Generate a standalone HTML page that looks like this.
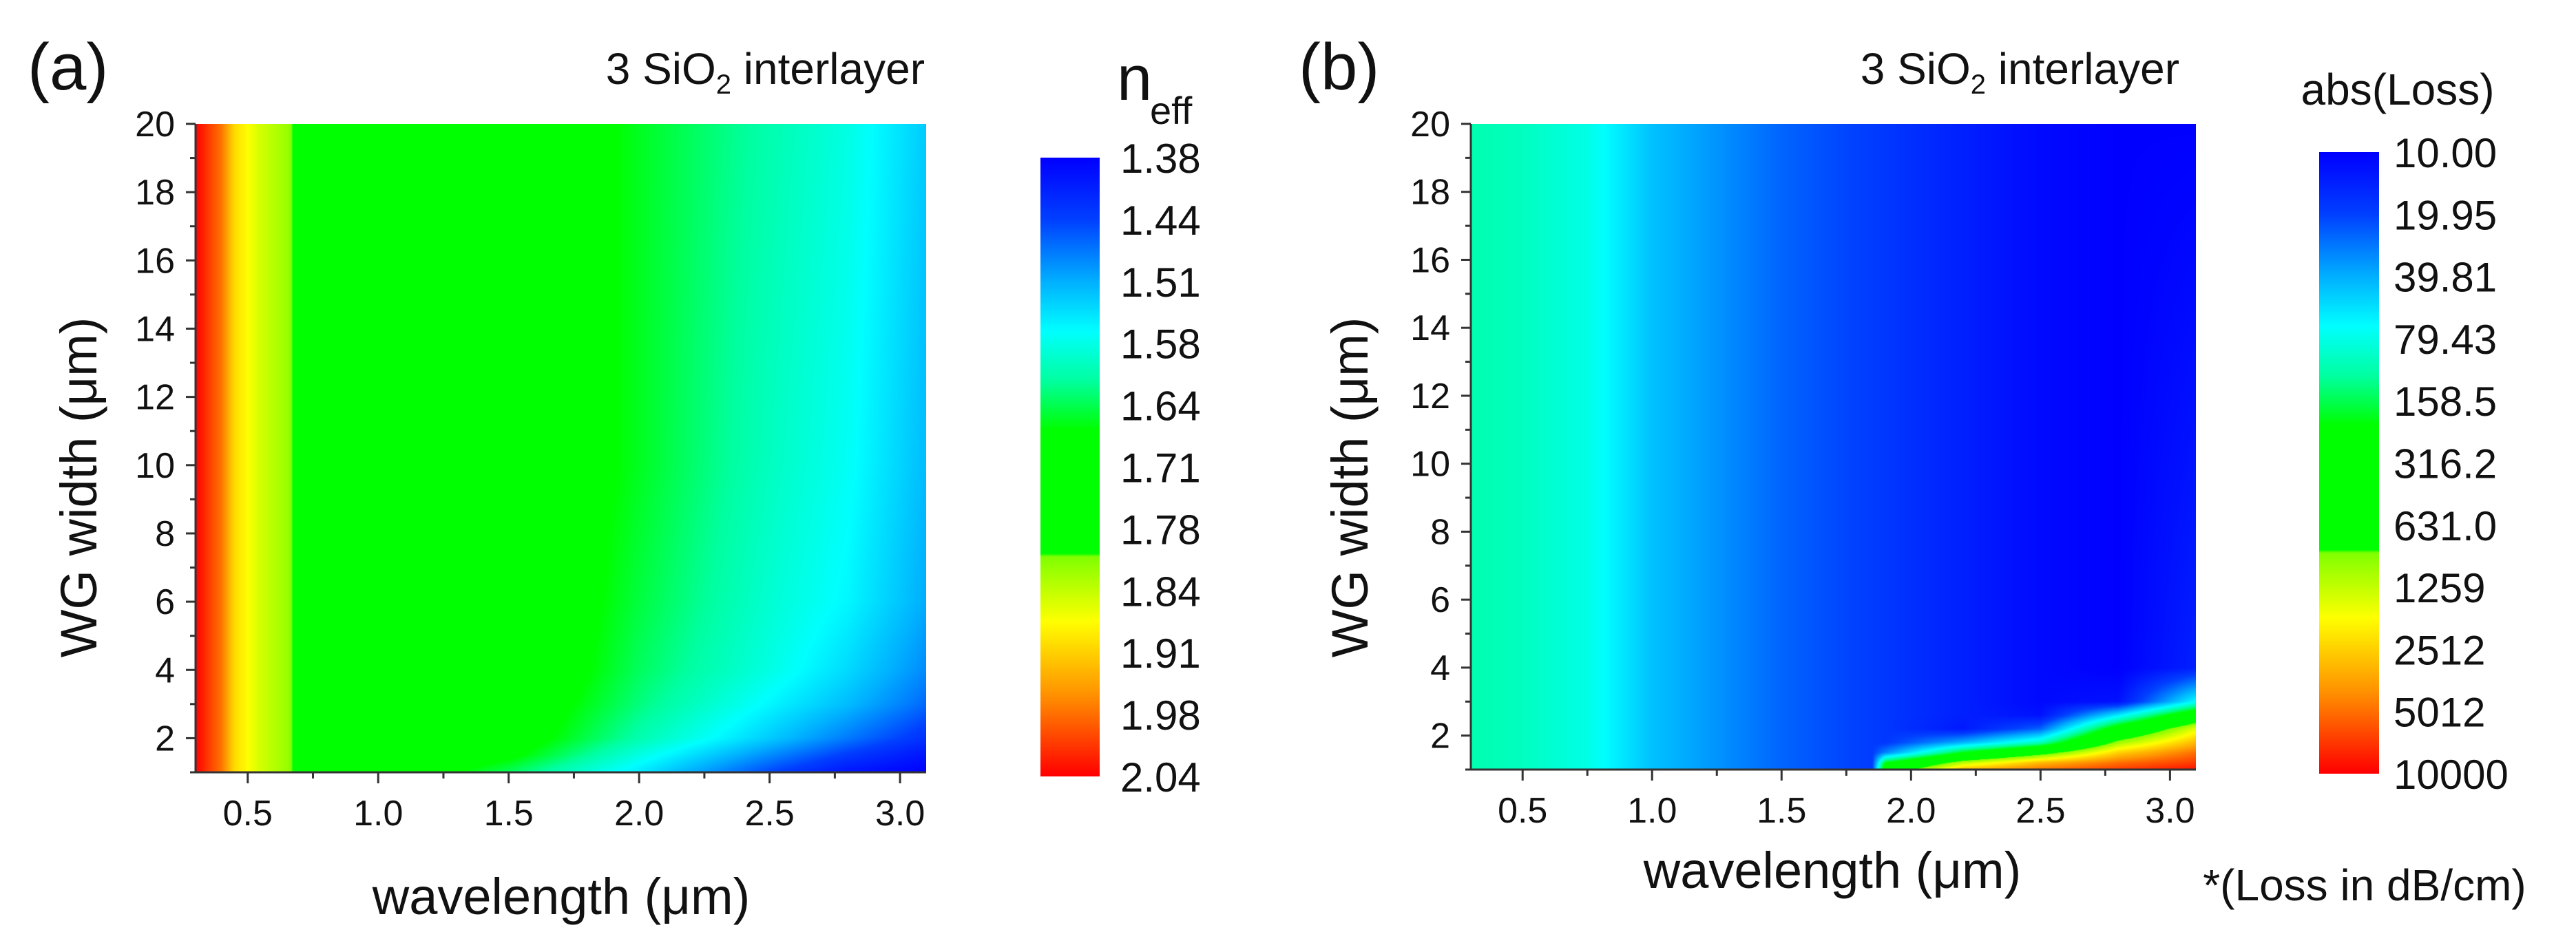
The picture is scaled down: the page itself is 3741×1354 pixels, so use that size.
<!DOCTYPE html>
<html><head><meta charset="utf-8">
<style>
html,body{margin:0;padding:0;background:#fff;}
#root{position:relative;width:3741px;height:1354px;overflow:hidden;font-family:"Liberation Sans",Arial,sans-serif;}
canvas{position:absolute;}
svg{position:absolute;left:0;top:0;}
text{font-family:"Liberation Sans",Arial,sans-serif;fill:#111;}
</style></head>
<body>
<div id="root">
<canvas id="heatA"></canvas>
<canvas id="heatB"></canvas>
<canvas id="cbarA"></canvas>
<canvas id="cbarB"></canvas>
<svg id="ov" width="3741" height="1354"></svg>
</div>
<script>
// ---- Panel (a) data: effective index ----
const wlA = [0.3,0.4,0.45,0.55,0.65,0.7,1.0,1.5,2.0,2.5,2.8,3.1];
const widthsA = [1,1.5,2,3,4,6,10,20];
const neff_w1   = [2.04,1.97,1.90,1.85,1.82,1.78,1.72,1.64,1.55,1.45,1.40,1.38];
const neff_w1p5 = [2.04,1.97,1.90,1.85,1.82,1.78,1.73,1.68,1.58,1.49,1.44,1.40];
const neff_w2   = [2.04,1.97,1.90,1.85,1.82,1.78,1.73,1.70,1.61,1.53,1.48,1.43];
const neff_w3   = [2.04,1.97,1.90,1.85,1.82,1.78,1.74,1.71,1.63,1.56,1.52,1.47];
const neff_w4   = [2.04,1.97,1.90,1.85,1.82,1.78,1.74,1.72,1.64,1.58,1.54,1.49];
const neff_w6   = [2.04,1.97,1.90,1.85,1.82,1.78,1.74,1.72,1.65,1.59,1.56,1.51];
const neff_w10  = [2.04,1.97,1.90,1.85,1.82,1.78,1.74,1.72,1.66,1.60,1.57,1.52];
const neff_w20  = [2.04,1.97,1.90,1.85,1.82,1.78,1.74,1.72,1.66,1.61,1.58,1.53];
const neffRows = [neff_w1,neff_w1p5,neff_w2,neff_w3,neff_w4,neff_w6,neff_w10,neff_w20];
const cbarTicksA = ["1.38","1.44","1.51","1.58","1.64","1.71","1.78","1.84","1.91","1.98","2.04"];
const neffMin = 1.38, neffMax = 2.04;

// ---- Panel (b) data: loss in dB/cm ----
const wlB = [0.3,0.5,0.75,1.0,1.5,1.85,1.9,2.2,2.5,2.8,3.1];
const widthsB = [1,1.2,1.5,1.8,2.2,2.6,3,4,20];
const loss_w1   = [110,100,80,45,25,19,400,3000,5000,7000,9000];
const loss_w1p2 = [110,100,80,45,25,19,200,1200,3000,5000,7000];
const loss_w1p5 = [110,100,80,45,25,19,30,200,600,2500,5000];
const loss_w1p8 = [110,100,80,45,25,19,18,40,100,1000,3000];
const loss_w2p2 = [110,100,80,45,25,19,18,13,25,300,1500];
const loss_w2p6 = [110,100,80,45,25,19,18,14,12,60,400];
const loss_w3   = [110,100,80,45,25,19,18,14,11,12,70];
const loss_w4   = [110,100,80,45,25,19,18,14,11,10,14];
const loss_w20  = [110,100,80,45,25,19,18,14,11,10,10];
const lossRows = [loss_w1,loss_w1p2,loss_w1p5,loss_w1p8,loss_w2p2,loss_w2p6,loss_w3,loss_w4,loss_w20];
const cbarTicksB = ["10.00","19.95","39.81","79.43","158.5","316.2","631.0","1259","2512","5012","10000"];
const lossMin = 10, lossMax = 10000;

const yTicks = [2,4,6,8,10,12,14,16,18,20];
const xTicks = [0.5,1.0,1.5,2.0,2.5,3.0];

// colormap (t=0 blue ... t=1 red)
const cmStops=[[0,[0,0,255]],[0.1,[0,64,255]],[0.2,[0,176,255]],[0.28,[0,255,255]],[0.36,[0,255,160]],[0.44,[0,255,0]],[0.64,[0,255,0]],[0.645,[128,255,0]],[0.75,[255,255,0]],[0.87,[255,144,0]],[1,[255,0,0]]];
function cmap(t){t=Math.max(0,Math.min(1,t));for(let i=1;i<cmStops.length;i++){if(t<=cmStops[i][0]){const a=cmStops[i-1],b=cmStops[i];const f=(t-a[0])/((b[0]-a[0])||1);return [0,1,2].map(k=>Math.round(a[1][k]+(b[1][k]-a[1][k])*f));}}return [255,0,0];}
function interp1(xs,v){if(v<=xs[0])return [0,0];if(v>=xs[xs.length-1])return [xs.length-2,1];for(let i=1;i<xs.length;i++){if(v<=xs[i])return [i-1,(v-xs[i-1])/(xs[i]-xs[i-1])];}}
function bilin(xs,ys,rows,x,y){const [i,fx]=interp1(xs,x);const [j,fy]=interp1(ys,y);const a=rows[j][i]*(1-fx)+rows[j][i+1]*fx;const b=rows[j+1][i]*(1-fx)+rows[j+1][i+1]*fx;return a*(1-fy)+b*fy;}

const NS="http://www.w3.org/2000/svg";
const ov=document.getElementById('ov');
function el(tag,attrs,txt){const e=document.createElementNS(NS,tag);for(const k in attrs)e.setAttribute(k,attrs[k]);if(txt!==undefined)e.textContent=txt;ov.appendChild(e);return e;}

function panel(cfg){
  const {L,R,T,B,xMin,xMax,yMin,yMax}=cfg;
  const sx=v=>L+(v-xMin)/(xMax-xMin)*(R-L);
  const sy=v=>B-(v-yMin)/(yMax-yMin)*(B-T);
  const c=document.getElementById(cfg.canvas);c.width=R-L;c.height=B-T;c.style.left=L+'px';c.style.top=T+'px';
  const ctx=c.getContext('2d');const img=ctx.createImageData(c.width,c.height);
  for(let py=0;py<c.height;py++){const yv=yMax-(py+0.5)/c.height*(yMax-yMin);
    for(let px=0;px<c.width;px++){const xv=xMin+(px+0.5)/c.width*(xMax-xMin);
      const t=cfg.valueT(xv,yv);const col=cmap(t);const o=(py*c.width+px)*4;img.data[o]=col[0];img.data[o+1]=col[1];img.data[o+2]=col[2];img.data[o+3]=255;}}
  ctx.putImageData(img,0,0);
  // axes
  const ax=el('path',{d:`M${L},${T} L${L},${B} L${R},${B}`,fill:'none',stroke:'#333','stroke-width':3});
  
  for(let v=yMin;v<=yMax;v+=1){const y=sy(v);const major=yTicks.includes(v);
    const tk=el('line',{x1:L-(major?14:8),x2:L,y1:y,y2:y,stroke:'#333','stroke-width':3});
    
    if(major){const t=el('text',{x:L-30,y:y+18,'font-size':52,'text-anchor':'end'},String(v));
      }}
  for(let v=0.5;v<=xMax+1e-6;v+=0.25){const x=sx(v);const major=Math.abs(v*2-Math.round(v*2))<1e-6;
    const tk=el('line',{x1:x,x2:x,y1:B,y2:B+(major?16:9),stroke:'#333','stroke-width':3});
    
    if(major){const t=el('text',{x:x,y:B+77,'font-size':52,'text-anchor':'middle'},v.toFixed(1));
      }}
  // colorbar
  const cb=document.getElementById(cfg.cbar);cb.width=cfg.cbR-cfg.cbL;cb.height=cfg.cbB-cfg.cbT;cb.style.left=cfg.cbL+'px';cb.style.top=cfg.cbT+'px';
  const cctx=cb.getContext('2d');for(let py=0;py<cb.height;py++){const col=cmap(py/(cb.height-1));cctx.fillStyle=`rgb(${col[0]},${col[1]},${col[2]})`;cctx.fillRect(0,py,cb.width,1);}
  cfg.cbTicks.forEach((s,i)=>{const y=cfg.cbT+i*(cfg.cbB-cfg.cbT)/(cfg.cbTicks.length-1);
    const t=el('text',{x:cfg.cbLabX,y:y+22,'font-size':60},s);});
}

panel({id:'a',canvas:'heatA',cbar:'cbarA',L:284,R:1345,T:180,B:1122,xMin:0.3,xMax:3.1,yMin:1,yMax:20,
  valueT:(x,y)=>(bilin(wlA,widthsA,neffRows,x,y)-neffMin)/(neffMax-neffMin),
  cbL:1511,cbR:1597,cbT:229,cbB:1128,cbLabX:1627,cbTicks:cbarTicksA});
panel({id:'b',canvas:'heatB',cbar:'cbarB',L:2136,R:3189,T:180,B:1118,xMin:0.3,xMax:3.1,yMin:1,yMax:20,
  valueT:(x,y)=>{const lv=bilin(wlB,widthsB,lossRows.map(r=>r.map(v=>Math.log10(v))),x,y);return (lv-Math.log10(lossMin))/(Math.log10(lossMax)-Math.log10(lossMin));},
  cbL:3368,cbR:3455,cbT:221,cbB:1124,cbLabX:3476,cbTicks:cbarTicksB});

// labels
let t;
t=el('text',{x:40,y:130,'font-size':96},'(a)');
t=el('text',{x:1886,y:130,'font-size':96},'(b)');
t=el('text',{x:1343,y:122,'font-size':64,'text-anchor':'end'});t.innerHTML='3 SiO<tspan font-size="40" dy="14">2</tspan><tspan dy="-14"> interlayer</tspan>';
t=el('text',{x:3165,y:122,'font-size':64,'text-anchor':'end'});t.innerHTML='3 SiO<tspan font-size="40" dy="14">2</tspan><tspan dy="-14"> interlayer</tspan>';
t=el('text',{x:815,y:1328,'font-size':74,'text-anchor':'middle'},'wavelength (\u03bcm)');
t=el('text',{x:2661,y:1290,'font-size':74,'text-anchor':'middle'},'wavelength (\u03bcm)');
t=el('text',{x:0,y:0,'font-size':74,'text-anchor':'middle',transform:'translate(140,708) rotate(-90)'},'WG width (\u03bcm)');
t=el('text',{x:0,y:0,'font-size':74,'text-anchor':'middle',transform:'translate(1986,708) rotate(-90)'},'WG width (\u03bcm)');
t=el('text',{x:1622,y:145,'font-size':92},'n');
t=el('text',{x:1670,y:180,'font-size':56},'eff');
t=el('text',{x:3482,y:152,'font-size':64,'text-anchor':'middle'},'abs(Loss)');
t=el('text',{x:3434,y:1308,'font-size':64,'text-anchor':'middle'},'*(Loss in dB/cm)');
</script>
</body></html>
